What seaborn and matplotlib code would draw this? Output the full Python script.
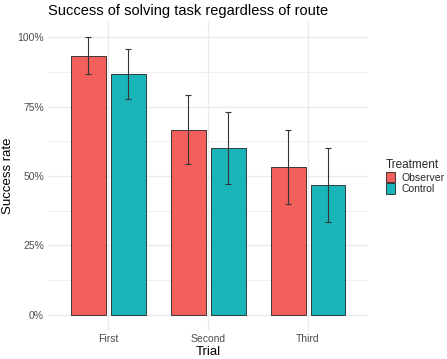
import matplotlib
matplotlib.use("Agg")
import matplotlib.pyplot as plt
import seaborn as sns
import pandas as pd
import numpy as np
from matplotlib.patches import Patch
from matplotlib.ticker import FuncFormatter

trials = ["First", "Second", "Third"]
treatments = ["Observer", "Control"]
observer_rate = [0.933, 0.667, 0.533]
control_rate = [0.867, 0.600, 0.467]
observer_lo = [0.867, 0.543, 0.401]
observer_hi = [1.000, 0.792, 0.667]
control_lo = [0.777, 0.470, 0.335]
control_hi = [0.958, 0.731, 0.600]
colors = ["#F35F5B", "#19B5B9"]

df = pd.DataFrame({
    "Trial": trials * 2,
    "Treatment": ["Observer"] * 3 + ["Control"] * 3,
    "rate": observer_rate + control_rate,
    "lo": observer_lo + control_lo,
    "hi": observer_hi + control_hi,
})

sns.set_theme(style="white")
plt.rcParams["font.family"] = ["Liberation Sans", "DejaVu Sans"]

fig = plt.figure(figsize=(4.47, 3.59), dpi=100)
ax = fig.add_axes([48 / 447, 29 / 359, 320 / 447, 308 / 359])

sns.barplot(data=df, x="Trial", y="rate", hue="Treatment", order=trials,
            hue_order=treatments, palette=colors, saturation=1, errorbar=None,
            width=0.8, gap=0.125, edgecolor="#222222", linewidth=0.6,
            ax=ax, legend=False, zorder=2)

# error bars from bar positions
for i, tr in enumerate(treatments):
    cont = ax.containers[i]
    sub = df[df["Treatment"] == tr].set_index("Trial").loc[trials]
    xs = [p.get_x() + p.get_width() / 2 for p in cont.patches]
    y = sub["rate"].values
    yerr = np.vstack([y - sub["lo"].values, sub["hi"].values - y])
    ax.errorbar(xs, y, yerr=yerr, fmt="none", ecolor="#333333",
                elinewidth=0.8, capsize=2.0, capthick=0.8, zorder=3)

ax.set_xlim(-0.6, 2.6)
ax.set_ylim(-0.054, 1.054)
ax.set_yticks([0, 0.25, 0.5, 0.75, 1.0])
ax.set_yticks([0.125, 0.375, 0.625, 0.875], minor=True)
ax.yaxis.set_major_formatter(FuncFormatter(lambda v, p: f"{int(round(v * 100))}%"))
ax.grid(True, which="major", axis="both", color="#EBEBEB", linewidth=1.0, zorder=0)
ax.grid(True, which="minor", axis="y", color="#EFEFEF", linewidth=0.7, zorder=0)
ax.set_axisbelow(True)
for s in ax.spines.values():
    s.set_visible(False)
ax.tick_params(axis="both", which="both", length=0, labelsize=7.5,
               labelcolor="#4D4D4D", pad=3)
ax.tick_params(axis="x", pad=3)

ax.set_xlabel("Trial", fontsize=9.5, color="black", labelpad=1)
ax.set_ylabel("Success rate", fontsize=9.5, color="black", labelpad=2)
ax.set_title("Success of solving task regardless of route", fontsize=10.5,
             loc="left", x=0.0, pad=5, color="black")

handles = [Patch(facecolor=c, edgecolor="#222222", linewidth=0.6) for c in colors]
leg = fig.legend(handles, treatments, title="Treatment", loc="upper left",
                 bbox_to_anchor=(386 / 447, 1 - 159.5 / 359), frameon=False,
                 fontsize=7.5, title_fontsize=8.5, handlelength=0.9,
                 handleheight=1.15, handletextpad=0.6, labelspacing=0.05,
                 borderpad=0.0, borderaxespad=0.0, alignment="left")

fig.savefig("out.png", dpi=100)
